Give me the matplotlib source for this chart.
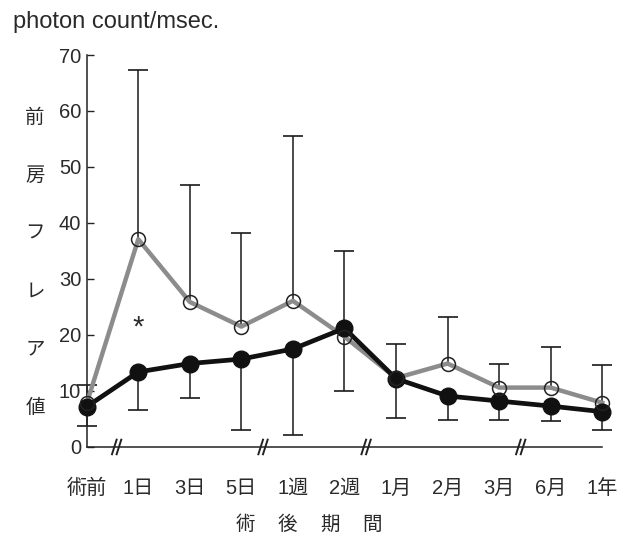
import matplotlib
matplotlib.use("Agg")
import matplotlib.pyplot as plt
import numpy as np

plt.rcParams['font.family'] = ['Liberation Sans', 'Noto Sans CJK JP', 'DejaVu Sans']

# Post-operative time points
periods = ['術前', '1日', '3日', '5日', '1週', '2週', '1月', '2月', '3月', '6月', '1年']

# Open-circle series (grey line), mean and upper SD bound
grey_mean = [7.8, 37.1, 25.9, 21.5, 26.1, 19.7, 12.3, 14.9, 10.6, 10.6, 7.9]
grey_upper = [11.0, 67.3, 46.7, 38.2, 55.5, 35.0, 18.3, 23.2, 14.9, 17.9, 14.6]

# Filled-circle series (black line), mean and lower SD bound
black_mean = [7.2, 13.4, 14.9, 15.7, 17.5, 21.2, 12.2, 9.1, 8.2, 7.3, 6.3]
black_lower = [3.7, 6.6, 8.7, 3.0, 2.1, 10.0, 5.1, 4.9, 4.9, 4.7, 3.0]

# Significance marker
star_period = '1日'
star_value = 22.4

yticks = [0, 10, 20, 30, 40, 50, 60, 70]
ylabel_chars = ['前', '房', 'フ', 'レ', 'ア', '値']
xlabel_chars = ['術', '後', '期', '間']
unit_label = 'photon count/msec.'
# axis breaks placed between these neighbouring periods
breaks = [(0, 1), (3, 4), (5, 6), (8, 9)]

text_color = '#2a2a2a'
bar_color = '#1a1a1a'

fig = plt.figure(figsize=(6.24, 5.34), dpi=100)
ax = fig.add_axes([0.139, 0.163, 0.826, 0.734])

x = np.arange(len(periods))
g_mean = np.array(grey_mean)
b_mean = np.array(black_mean)
g_up = np.array(grey_upper)
b_lo = np.array(black_lower)

# one-sided error bars: grey upward, black downward, cap only at the far end
ax.vlines(x, g_mean, g_up, colors=bar_color, lw=1.1, zorder=2, clip_on=False)
ax.plot(x, g_up, linestyle='none', marker='_', ms=14, mew=1.2, color=bar_color,
        zorder=2, clip_on=False)
ax.vlines(x, b_lo, b_mean, colors=bar_color, lw=1.1, zorder=2, clip_on=False)
ax.plot(x, b_lo, linestyle='none', marker='_', ms=14, mew=1.2, color=bar_color,
        zorder=2, clip_on=False)

ax.plot(x, g_mean, color='#8c8c8c', lw=3.2, zorder=3, clip_on=False,
        solid_joinstyle='round')
ax.plot(x, b_mean, color='#111111', lw=3.4, marker='o', ms=12,
        markerfacecolor='#111111', markeredgecolor='#111111', zorder=4,
        clip_on=False, solid_joinstyle='round')
ax.plot(x, g_mean, linestyle='none', marker='o', ms=10, markerfacecolor='none',
        markeredgecolor='#222222', markeredgewidth=1.1, zorder=5, clip_on=False)

ax.annotate('*', (periods.index(star_period), star_value), xytext=(0, -4),
            textcoords='offset points', ha='center', va='center',
            fontsize=21, color=text_color)

ax.set_xlim(0, len(periods) - 1)
ax.set_ylim(0, 70)

ax.spines['top'].set_visible(False)
ax.spines['right'].set_visible(False)
ax.spines['left'].set_color('#222222')
ax.spines['bottom'].set_color('#222222')
ax.spines['left'].set_linewidth(1.1)
ax.spines['bottom'].set_linewidth(1.1)

ax.set_yticks(yticks)
ax.set_yticklabels([str(v) for v in yticks])
ax.tick_params(axis='y', direction='in', length=5, width=1.0, pad=4,
               labelsize=14.5, colors='#222222')
for lab in ax.get_yticklabels():
    lab.set_color(text_color)

ax.set_xticks(x)
ax.set_xticklabels(periods)
ax.tick_params(axis='x', length=0, pad=23, labelsize=14.5, labelcolor=text_color)

# axis break marks on the bottom line
for a, b in breaks:
    bx = (a + b) / 2 + (0.08 if a == 0 else -0.08)
    for off in (-0.045, 0.045):
        ax.plot([bx + off - 0.045, bx + off + 0.045], [-1.3, 1.3], color='#222222',
                lw=1.4, clip_on=False, zorder=6)

# vertical axis title, one character per line
for i, ch in enumerate(ylabel_chars):
    fig.text(35 / 624, 1 - (118 + i * 58) / 534, ch, ha='center', va='center',
             fontsize=14, color=text_color)

# horizontal axis title, characters spread out
for i, ch in enumerate(xlabel_chars):
    fig.text((245 + i * 42.3) / 624, 1 - 525 / 534, ch, ha='center', va='center',
             fontsize=14, color=text_color)

fig.text(13 / 624, 1 - 22 / 534, unit_label, ha='left', va='center',
         fontsize=17, color=text_color)

fig.savefig('out.png', dpi=100)
